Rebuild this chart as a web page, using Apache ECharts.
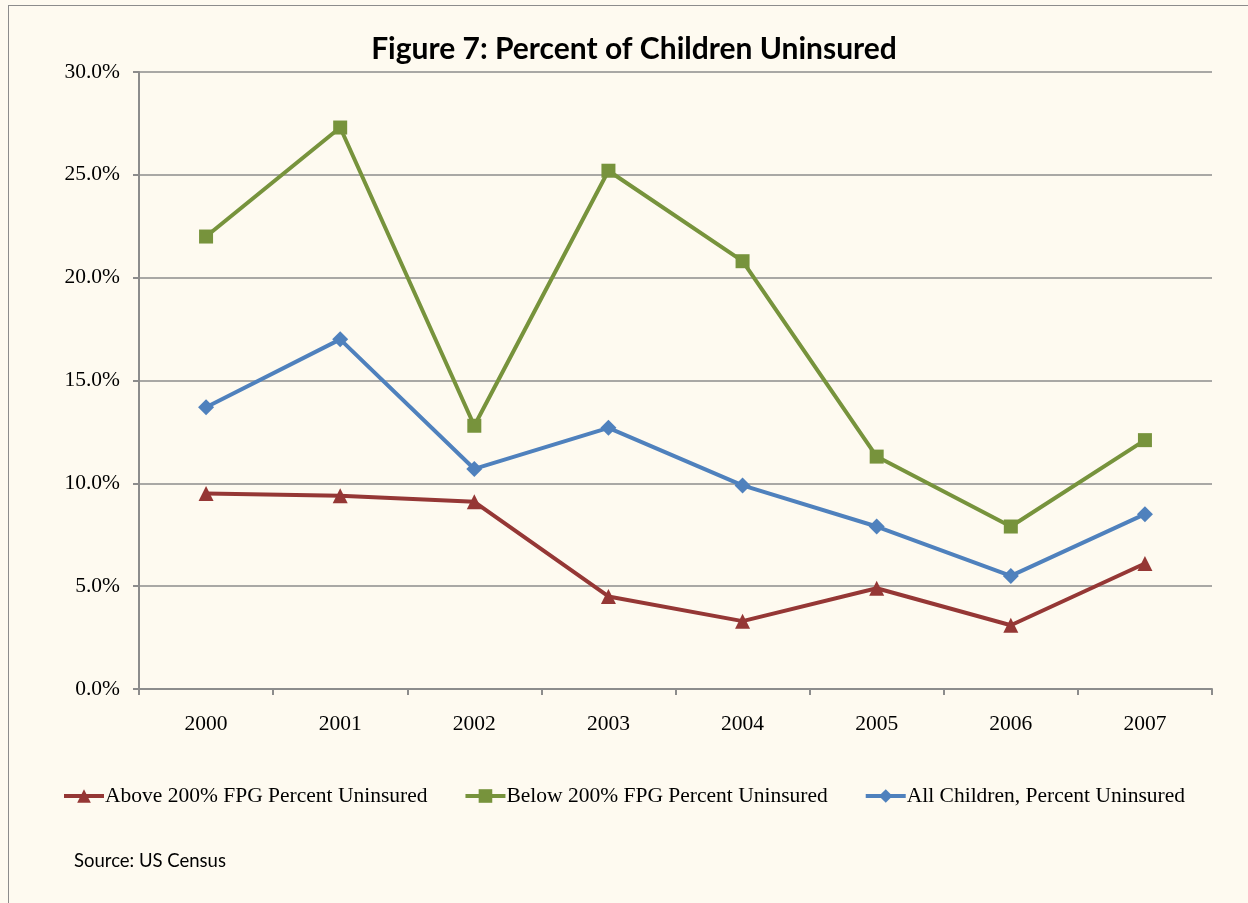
<!DOCTYPE html>
<html>
<head>
<meta charset="utf-8">
<script src="https://cdn.jsdelivr.net/npm/echarts@6/dist/echarts.min.js"></script>
<style>
html,body{margin:0;padding:0;background:#fefaf0;overflow:hidden;}
#frame{position:absolute;left:8px;top:5px;width:1300px;height:1000px;border:1px solid #8c8c8c;box-sizing:border-box;}
#chart{position:absolute;left:0;top:0;width:1248px;height:903px;}
</style>
</head>
<body>
<div id="frame"></div>
<div id="chart"></div>
<script>
const years = ['2000','2001','2002','2003','2004','2005','2006','2007'];
const above200 = [9.5, 9.4, 9.1, 4.5, 3.3, 4.9, 3.1, 6.1];
const below200 = [22.0, 27.3, 12.8, 25.2, 20.8, 11.3, 7.9, 12.1];
const allChildren = [13.7, 17.0, 10.7, 12.7, 9.9, 7.9, 5.5, 8.5];
const seriesNames = ['Above 200% FPG Percent Uninsured','Below 200% FPG Percent Uninsured','All Children, Percent Uninsured'];
const titleText = 'Figure 7: Percent of Children Uninsured';
const sourceText = 'Source: US Census';

const chart = echarts.init(document.getElementById('chart'), null, {renderer:'canvas'});
const serif = 'Liberation Serif';
const mk = (name, data, color, symbol, size) => ({
  name, type:'line', data, symbol, symbolSize:size,
  lineStyle:{color, width:4}, itemStyle:{color}, emphasis:{disabled:true}, z: 3
});
chart.setOption({
  backgroundColor:'transparent',
  animation:false,
  title:{text:titleText,left:629,textAlign:'center',top:29,textStyle:{fontFamily:'Lato',fontWeight:'bold',fontSize:30,color:'#000'}},
  grid:{left:139,right:36,top:72,bottom:214},
  xAxis:{type:'category',data:years,boundaryGap:true,
    axisLine:{lineStyle:{color:'#8c8c8c',width:2}},
    axisTick:{show:true,length:6,lineStyle:{color:'#8c8c8c',width:2}},
    axisLabel:{fontFamily:serif,fontSize:21.5,color:'#000',margin:24},
    splitLine:{show:false}},
  yAxis:{type:'value',min:0,max:30,interval:5,
    axisLine:{show:true,lineStyle:{color:'#8c8c8c',width:2}},
    axisTick:{show:true,length:6,lineStyle:{color:'#8c8c8c',width:2}},
    axisLabel:{fontFamily:serif,fontSize:21.5,color:'#000',margin:19,formatter:v=>v.toFixed(1)+'%'},
    splitLine:{show:true,lineStyle:{color:'#8c8c8c',width:1.5}}},
  legend:{left:57,top:780,itemGap:36,itemWidth:40,itemHeight:17,
    lineStyle:{width:4},
    textStyle:{fontFamily:serif,fontSize:21.5,color:'#000',padding:[0,0,0,-4]},
    data:seriesNames},
  graphic:[{type:'text',left:74,top:852,style:{text:sourceText,font:'18.5px Lato',fill:'#000'}}],
  series:[
    mk(seriesNames[0], above200, '#953735', 'triangle', 15),
    mk(seriesNames[1], below200, '#77933c', 'rect', 14),
    mk(seriesNames[2], allChildren, '#4f81bd', 'diamond', 16)
  ]
});
</script>
</body>
</html>
